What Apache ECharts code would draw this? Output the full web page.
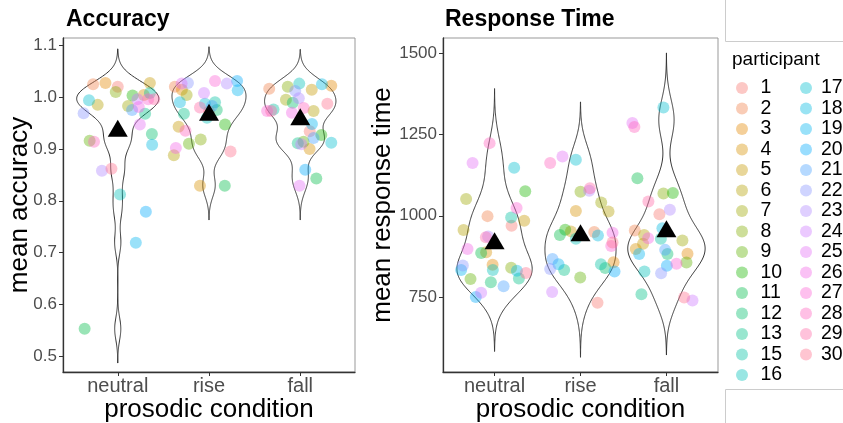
<!DOCTYPE html>
<html>
<head>
<meta charset="utf-8">
<script src="https://cdn.jsdelivr.net/npm/echarts@6/dist/echarts.min.js"></script>
<style>
  html, body { margin: 0; padding: 0; background: #fff; }
  #main { width: 843px; height: 423px; }
</style>
</head>
<body>
<div id="main"></div>
<script>
// participants (no 14) and conditions
var participants = ['1','2','3','4','5','6','7','8','9','10','11','12','13','15','16',
  '17','18','19','20','21','22','23','24','25','26','27','28','29','30'];
var conditions = ['neutral', 'rise', 'fall'];

// mean accuracy per participant (order of participants)
var accNeutral = [1.020,1.025,1.027,1.004,1.027,0.985,0.983,1.010,0.916,1.003,0.553,0.929,0.968,1.008,0.812,0.994,0.908,0.719,0.779,0.975,0.969,0.858,0.996,0.947,0.981,0.996,0.914,0.996,0.862];
var accRise    = [0.972,1.020,1.014,0.829,0.943,0.888,1.004,0.918,0.910,0.947,0.829,0.975,0.968,0.990,0.960,0.987,0.990,1.013,1.031,0.983,1.027,1.026,1.008,1.026,0.902,1.031,0.935,0.980,0.895];
var accFall    = [0.934,1.016,1.022,0.900,1.014,0.973,0.995,1.020,0.914,0.927,0.843,0.989,0.911,0.976,1.026,0.912,1.025,0.948,0.860,0.921,1.012,0.998,0.909,0.829,0.970,0.973,0.979,0.973,0.987];
// horizontal jitter of each point (in category units)
var accNeutralJit = [0,-0.27,-0.135,0.286,0.352,-0.22,0.113,-0.022,-0.308,0.162,-0.363,0.374,0.30,0.352,0.025,-0.315,0.377,0.198,0.308,0.157,-0.374,-0.173,0.216,0.242,0.231,0.333,-0.26,0.40,-0.069];
var accRiseJit    = [0,-0.374,-0.297,-0.099,-0.333,-0.385,-0.245,-0.091,-0.22,0.176,0.173,0.085,-0.275,0.066,-0.022,-0.044,-0.319,0.315,0.308,0.033,-0.231,0.195,-0.055,-0.30,-0.363,0.066,-0.258,-0.099,0.236];
var accFallJit    = [0.104,-0.34,0.34,0.102,0.126,0.146,-0.157,-0.137,0.036,0.231,0.176,-0.082,-0.027,-0.293,-0.011,0.34,0.238,0.128,0.055,0.146,-0.055,-0.016,0.011,-0.008,-0.091,-0.363,0.038,-0.319,0.297];

// mean response time per participant
var rtNeutral = [969,999,849,888,985,956,1052,840,805,1076,885,795,807,995,833,1148,831,833,750,783,847,936,763,1163,898,1024,1224,934,824];
var rtRise    = [732,950,857,1015,952,1013,1041,1074,810,957,941,839,833,851,929,1173,939,851,828,867,836,1077,765,1183,948,907,1163,1085,918];
var rtFall    = [1005,955,883,898,914,941,924,1069,856,1070,1116,882,758,929,828,1334,962,882,846,895,823,1019,739,1286,931,852,1274,1044,748];
var rtNeutralJit = [0.198,-0.082,-0.023,-0.098,0.345,-0.361,-0.331,0.193,-0.28,0.357,-0.156,-0.043,0.283,0.193,-0.02,0.228,0.26,-0.389,-0.218,0.105,-0.369,-0.075,-0.156,-0.256,-0.315,0.256,-0.058,-0.101,0.365];
var rtRiseJit    = [0.198,0.16,0.385,-0.054,-0.112,0.326,0.241,0,-0.003,-0.178,-0.24,0.288,-0.19,0.238,-0.054,-0.054,0.203,-0.256,0.396,-0.326,-0.353,0.101,-0.33,-0.21,0.373,0.358,-0.353,0.11,0.373];
var rtFallJit    = [-0.082,-0.368,0.245,-0.357,-0.272,-0.26,0.186,-0.035,0.233,0.075,-0.338,0.012,-0.291,-0.065,-0.256,-0.035,-0.047,-0.318,0.005,-0.015,-0.062,0.04,0.303,-0.396,-0.213,0.117,-0.373,-0.21,0.206];

// group means (triangles)
var accMeans = [0.940, 0.971, 0.962];
var rtMeans  = [923, 948, 960];

// tick labels
var accTicks = [0.5, 0.6, 0.7, 0.8, 0.9, 1.0, 1.1];
var rtTicks  = [750, 1000, 1250, 1500];

// violin kernel bandwidths
var accBw = 0.022;
var rtBw = 56;

// ggplot-like hue palette
function hcl2hex(h, c, l, a) {
  var Xn = 95.047, Yn = 100, Zn = 108.883;
  var hr = h * Math.PI / 180;
  var U = c * Math.cos(hr), V = c * Math.sin(hr);
  var Y = l > 8 ? Yn * Math.pow((l + 16) / 116, 3) : Yn * l / 903.3;
  var t = Xn + 15 * Yn + 3 * Zn;
  var un = 4 * Xn / t, vn = 9 * Yn / t;
  var u = U / (13 * l) + un, v = V / (13 * l) + vn;
  var X = 9 * Y * u / (4 * v);
  var Z = -X / 3 - 5 * Y + 3 * Y / v;
  X /= 100; Y /= 100; Z /= 100;
  var rgb = [
    3.240479 * X - 1.537150 * Y - 0.498535 * Z,
    -0.969256 * X + 1.875992 * Y + 0.041556 * Z,
    0.055648 * X - 0.204043 * Y + 1.057311 * Z
  ].map(function (x) {
    x = x <= 0.0031308 ? 12.92 * x : 1.055 * Math.pow(x, 1 / 2.4) - 0.055;
    return Math.round(Math.max(0, Math.min(1, x)) * 255);
  });
  return 'rgba(' + rgb.join(',') + ',' + a + ')';
}
var colors = participants.map(function (p, i) {
  return hcl2hex(15 + 360 * i / participants.length, 100, 65, 0.5);
});

// violin: gaussian kde, trim = FALSE (3 bandwidths past the data)
function kde(vals, bw) {
  var n = vals.length;
  var lo = Math.min.apply(null, vals) - 3 * bw, hi = Math.max.apply(null, vals) + 3 * bw, m = 300;
  var ys = [], ds = [];
  for (var k = 0; k < m; k++) {
    var y = lo + (hi - lo) * k / (m - 1), d = 0;
    for (var j = 0; j < n; j++) {
      var z = (y - vals[j]) / bw;
      d += Math.exp(-0.5 * z * z);
    }
    ys.push(y);
    ds.push(d / (n * bw * Math.sqrt(2 * Math.PI)));
  }
  return { y: ys, d: ds };
}
function violinProfiles(groups, bw) {
  var prof = groups.map(function (g) { return kde(g, bw); });
  var maxD = Math.max.apply(null, prof.map(function (p) { return Math.max.apply(null, p.d); }));
  prof.forEach(function (p) { p.w = p.d.map(function (d) { return 0.45 * d / maxD; }); });
  return prof;
}

function violinSeries(groups, means, idx, bw) {
  var prof = violinProfiles(groups, bw);
  return {
    type: 'custom', xAxisIndex: idx, yAxisIndex: idx, silent: true, z: 1,
    data: means.map(function (m, i) { return [i + 1, m]; }),
    renderItem: function (params, api) {
      var p = prof[params.dataIndex], cx = params.dataIndex + 1;
      var left = [], right = [];
      for (var k = 0; k < p.y.length; k++) {
        left.push(api.coord([cx - p.w[k], p.y[k]]));
        right.push(api.coord([cx + p.w[k], p.y[k]]));
      }
      return {
        type: 'polygon',
        shape: { points: left.concat(right.reverse()) },
        style: { fill: 'none', stroke: '#333', lineWidth: 1 }
      };
    }
  };
}

function pointSeries(groups, jits, idx) {
  return participants.map(function (p, pi) {
    return {
      name: p, type: 'scatter', xAxisIndex: idx, yAxisIndex: idx, z: 2,
      symbol: 'circle', symbolSize: 12, color: colors[pi],
      itemStyle: { color: colors[pi] },
      data: groups.map(function (g, ci) { return [ci + 1 + jits[ci][pi], g[pi]]; })
    };
  });
}

function meanSeries(means, idx) {
  return {
    type: 'scatter', xAxisIndex: idx, yAxisIndex: idx, z: 3, silent: true,
    symbol: 'triangle', symbolSize: [20, 17], itemStyle: { color: '#000', opacity: 1 },
    data: means.map(function (m, i) { return [i + 1, m]; })
  };
}

var font = 'Liberation Sans, Arial, sans-serif';

function xAxis(idx) {
  return {
    gridIndex: idx, type: 'value', min: 0.4, max: 3.6,
    name: 'prosodic condition', nameLocation: 'middle', nameGap: 25, nameMoveOverlap: false,
    nameTextStyle: { color: '#000', fontSize: 26, fontFamily: font },
    axisLine: { lineStyle: { color: '#333', width: 1.3 } },
    axisTick: { length: 4, customValues: [1, 2, 3], lineStyle: { color: '#333' } },
    axisLabel: { margin: 4, customValues: [1, 2, 3], color: '#4d4d4d', fontSize: 20, fontFamily: font,
      formatter: function (v) { return conditions[Math.round(v) - 1]; } },
    splitLine: { show: false }
  };
}
function yAxis(idx, name, min, max, ticks, gap, fmt) {
  return {
    gridIndex: idx, type: 'value', min: min, max: max,
    name: name, nameLocation: 'middle', nameGap: gap, nameMoveOverlap: false,
    nameTextStyle: { color: '#000', fontSize: 26, fontFamily: font },
    axisLine: { show: true, lineStyle: { color: '#333', width: 1.3 } },
    axisTick: { show: true, length: 4, customValues: ticks, lineStyle: { color: '#333' } },
    axisLabel: { margin: 6, customValues: ticks, formatter: fmt, color: '#4d4d4d', fontSize: 17, fontFamily: font },
    splitLine: { show: false }
  };
}

function legend(names, left, width) {
  return {
    orient: 'vertical', left: left, top: 78, height: 330, itemWidth: width, itemHeight: 12, itemGap: 0.5,
    icon: 'circle', symbolKeepAspect: true, data: names, padding: 0,
    textStyle: { fontSize: 19.5, color: '#000', fontFamily: font }
  };
}

var chart = echarts.init(document.getElementById('main'), null, { renderer: 'canvas' });
var option = {
  animation: false,
  textStyle: { fontFamily: font },
  title: [
    { text: 'Accuracy', left: 61, top: 3, textStyle: { fontSize: 23, fontWeight: 'bold', color: '#000', fontFamily: font } },
    { text: 'Response Time', left: 440, top: 3, textStyle: { fontSize: 23, fontWeight: 'bold', color: '#000', fontFamily: font } },
    { text: 'participant', left: 727, top: 45, textStyle: { fontSize: 19, fontWeight: 'normal', color: '#000', fontFamily: font } }
  ],
  legend: [
    legend(participants.slice(0, 15), 736, 27),
    legend(participants.slice(15), 800, 20)
  ],
  grid: [
    { left: 63, top: 38, width: 292, height: 334, show: true, borderColor: '#999', borderWidth: 1, outerBoundsMode: 'none' },
    { left: 443, top: 38, width: 275, height: 334, show: true, borderColor: '#999', borderWidth: 1, outerBoundsMode: 'none' }
  ],
  xAxis: [xAxis(0), xAxis(1)],
  yAxis: [
    yAxis(0, 'mean accuracy', 0.4697, 1.114, accTicks, 30, function (v) { return v.toFixed(1); }),
    yAxis(1, 'mean response time', 518.6, 1548, rtTicks, 47, function (v) { return String(Math.round(v)); })
  ],
  graphic: [
    { type: 'polyline', silent: true, shape: { points: [[725.5, 0], [725.5, 41.5], [843, 41.5]] }, style: { stroke: '#ccc', lineWidth: 1, fill: 'none' } },
    { type: 'polyline', silent: true, shape: { points: [[843, 389.5], [725.5, 389.5], [725.5, 423]] }, style: { stroke: '#ccc', lineWidth: 1, fill: 'none' } }
  ],
  series: [].concat(
    [violinSeries([accNeutral, accRise, accFall], accMeans, 0, accBw)],
    pointSeries([accNeutral, accRise, accFall], [accNeutralJit, accRiseJit, accFallJit], 0),
    [meanSeries(accMeans, 0)],
    [violinSeries([rtNeutral, rtRise, rtFall], rtMeans, 1, rtBw)],
    pointSeries([rtNeutral, rtRise, rtFall], [rtNeutralJit, rtRiseJit, rtFallJit], 1),
    [meanSeries(rtMeans, 1)]
  )
};
chart.setOption(option);
</script>
</body>
</html>
